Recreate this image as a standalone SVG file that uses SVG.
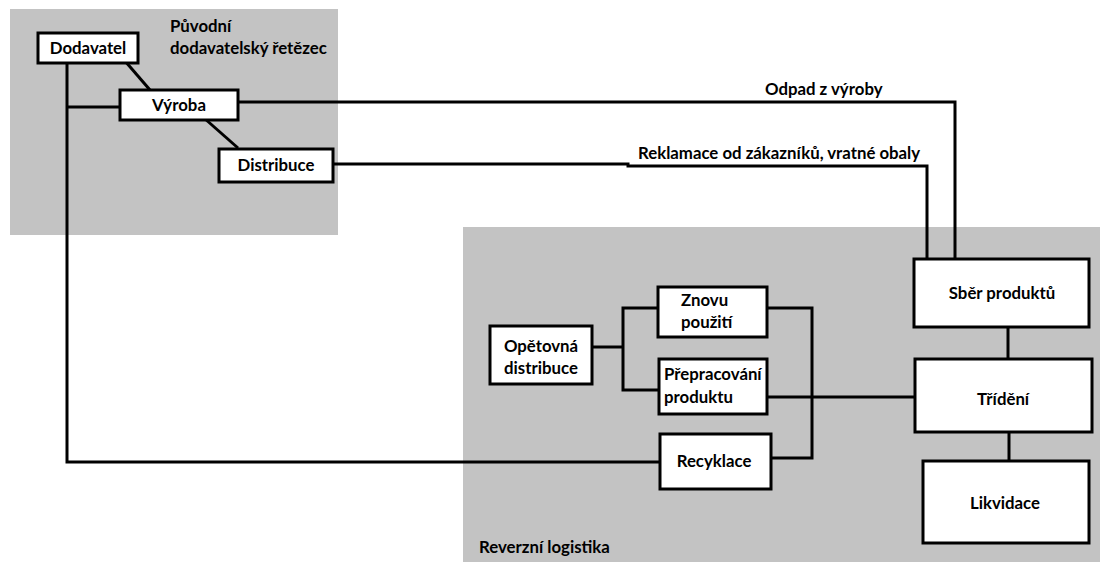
<svg xmlns="http://www.w3.org/2000/svg" width="1100" height="562" viewBox="0 0 1100 562">
<style>
.panel{fill:#c3c3c3;stroke:none}
.box{fill:#fff;stroke:#000;stroke-width:3}
.ln{fill:none;stroke:#000;stroke-width:3}
text{font-family:Lato,"Open Sans",sans-serif;font-weight:bold;font-size:16.8px;fill:#000}
.c{text-anchor:middle}
</style>
<rect width="1100" height="562" fill="#fff"/>
<g id="panel-original">
<rect class="panel" x="10" y="9" width="328" height="226"/>
<text x="170" y="32">Původní</text>
<text x="170" y="54">dodavatelský řetězec</text>
</g>
<g id="panel-reverse">
<rect class="panel" x="463" y="227" width="637" height="335"/>
<text x="479" y="553">Reverzní logistika</text>
</g>
<g id="connectors">
<path class="ln" d="M125,61 L150,90"/>
<path class="ln" d="M204,118 L238,148"/>
<path class="ln" d="M67,63 V462 H660"/>
<path class="ln" d="M67,107 H119"/>
<path class="ln" d="M238,102 H955 V260"/>
<path class="ln" d="M333,164 H628 V166 H927 V258"/>
<path class="ln" d="M1008,327 V358"/>
<path class="ln" d="M1009,432 V460"/>
<path class="ln" d="M767,397 H914"/>
<path class="ln" d="M592,347 H623"/>
<path class="ln" d="M658,308 H623 V390 H659"/>
<path class="ln" d="M767,308 H812 V458 H771"/>
<text x="765" y="95">Odpad z výroby</text>
<text x="638" y="159">Reklamace od zákazníků, vratné obaly</text>
</g>
<g id="dodavatel"><rect class="box" x="38" y="33" width="100" height="30"/><text class="c" x="88" y="54">Dodavatel</text></g>
<g id="vyroba"><rect class="box" x="120" y="90" width="118" height="30"/><text class="c" x="179" y="111">Výroba</text></g>
<g id="distribuce"><rect class="box" x="219" y="149" width="114" height="33"/><text class="c" x="276" y="171">Distribuce</text></g>
<g id="sber"><rect class="box" x="914" y="259" width="175" height="68"/><text class="c" x="1002" y="299">Sběr produktů</text></g>
<g id="trideni"><rect class="box" x="915" y="359" width="177" height="73"/><text class="c" x="1003" y="405">Třídění</text></g>
<g id="likvidace"><rect class="box" x="923" y="461" width="166" height="82"/><text class="c" x="1005" y="509">Likvidace</text></g>
<g id="znovu"><rect class="box" x="658" y="287" width="109" height="50"/><text x="681" y="306">Znovu</text><text x="681" y="328">použití</text></g>
<g id="prepracovani"><rect class="box" x="659" y="359" width="108" height="55"/><text x="664" y="380">Přepracování</text><text x="664" y="403">produktu</text></g>
<g id="recyklace"><rect class="box" x="660" y="434" width="111" height="55"/><text class="c" x="714" y="467">Recyklace</text></g>
<g id="opetovna"><rect class="box" x="490" y="326" width="102" height="58"/><text class="c" x="541" y="352">Opětovná</text><text class="c" x="541" y="374">distribuce</text></g>
</svg>
